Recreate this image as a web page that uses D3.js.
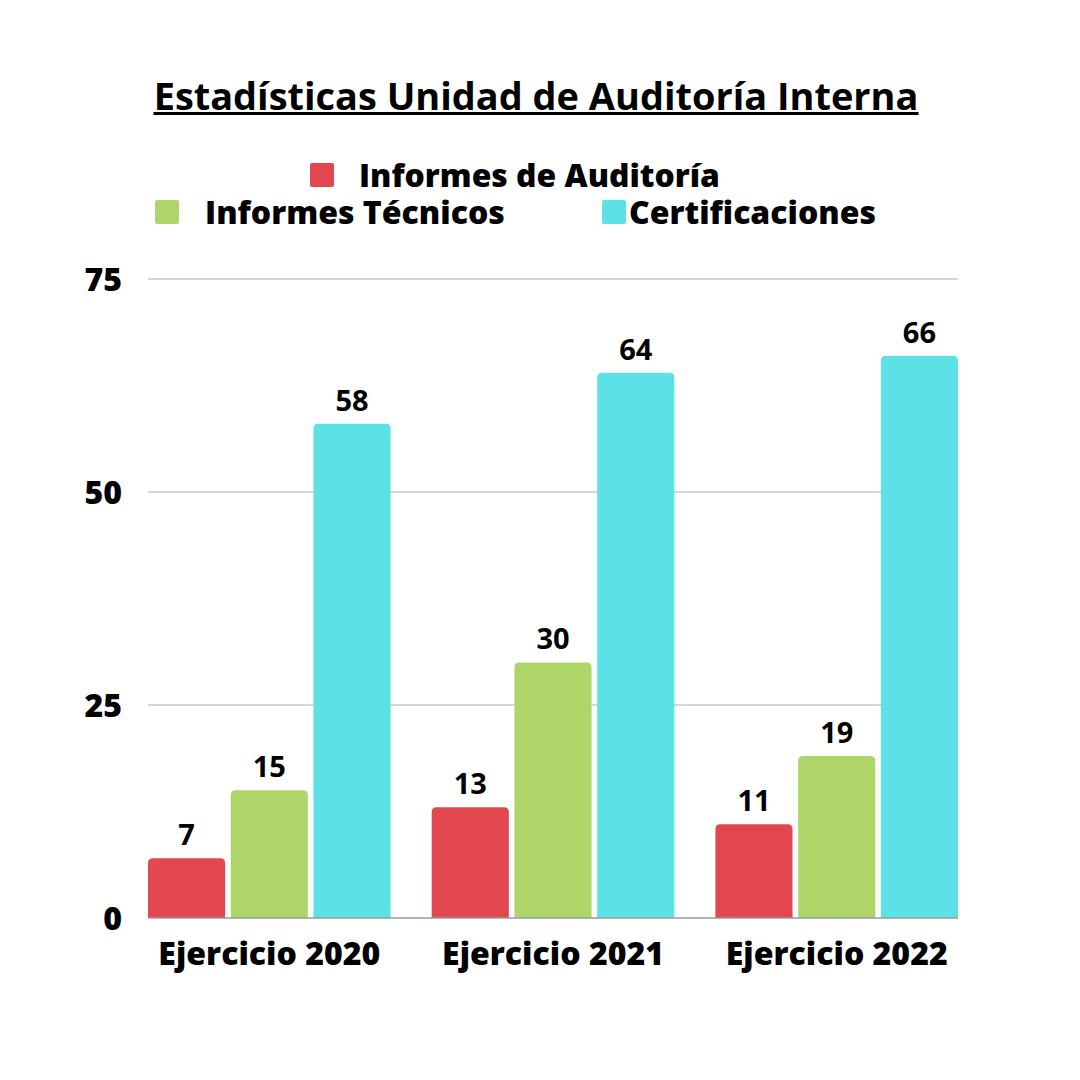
<!DOCTYPE html>
<html><head><meta charset="utf-8">
<script src="https://cdn.jsdelivr.net/npm/d3@7"></script>
<style>body{margin:0;background:#fff}svg{display:block}text{font-family:"Open Sans",sans-serif;fill:#000}</style>
</head><body><svg id="c" width="1080" height="1080"></svg>
<script>
const title = "Estadísticas Unidad de Auditoría Interna";
const categories = ["Ejercicio 2020", "Ejercicio 2021", "Ejercicio 2022"];
const seriesNames = ["Informes de Auditoría", "Informes Técnicos", "Certificaciones"];
const seriesColors = ["#E2464F", "#AED568", "#5CE1E6"];
const informesAuditoria = [7, 13, 11];
const informesTecnicos = [15, 30, 19];
const certificaciones = [58, 64, 66];
const yTicks = [0, 25, 50, 75];

const values = [informesAuditoria, informesTecnicos, certificaciones];
const svg = d3.select("#c");
const x0 = d3.scaleBand().domain(categories).range([148, 958]).paddingInner(0.145).paddingOuter(0);
const x1 = d3.scaleBand().domain(seriesNames).range([0, x0.bandwidth()]).paddingInner(0.068).paddingOuter(0);
const y = d3.scaleLinear().domain([0, 75]).range([918, 279]);

function fit(sel, base, target) {
  sel.style("font-size", base + "px");
  const w = sel.node().getComputedTextLength();
  sel.style("font-size", (base * target / w) + "px");
}

// title
const t = svg.append("text").attr("x", 536).attr("y", 110).attr("text-anchor", "middle")
  .style("font-weight", 700).text(title);
fit(t, 36, 765);
svg.append("rect").attr("x", 536 - 765/2).attr("y", 112).attr("width", 765).attr("height", 3).attr("fill", "#000");

// legend
const legendItems = [
  {i:0, sx:310, sy:163, tx:359, ty:187, w:361},
  {i:1, sx:155, sy:200, tx:205, ty:224, w:300},
  {i:2, sx:602, sy:200, tx:629, ty:224, w:247}
];
legendItems.forEach(d => {
  svg.append("rect").attr("x", d.sx).attr("y", d.sy).attr("width", 24).attr("height", 24).attr("rx", 2)
    .attr("fill", seriesColors[d.i]);
  const lt = svg.append("text").attr("x", d.tx).attr("y", d.ty).style("font-weight", 800)
    .text(seriesNames[d.i]);
  fit(lt, 30, d.w);
});

// grid
const grid = svg.append("g");
yTicks.filter(v => v > 0).forEach(v => {
  grid.append("line").attr("x1", 148).attr("x2", 958).attr("y1", y(v)).attr("y2", y(v))
    .attr("stroke", "#c8c8c8").attr("stroke-width", 1.5);
});
// y axis labels
const yAxis = d3.axisLeft(y).tickValues(yTicks).tickSize(0).tickPadding(0);
const ga = svg.append("g").attr("transform", "translate(122,0)").call(yAxis);
ga.select(".domain").remove();
ga.selectAll("text").style("font-size", "32px").style("font-weight", 800).style("font-family", "Open Sans")
  .attr("fill", "#000").attr("dy", "0.36em");

// bars
function topRounded(x, yTop, w, h, r) {
  r = Math.min(r, h);
  return `M${x},${yTop+h}V${yTop+r}Q${x},${yTop} ${x+r},${yTop}H${x+w-r}Q${x+w},${yTop} ${x+w},${yTop+r}V${yTop+h}Z`;
}
categories.forEach((c, ci) => {
  seriesNames.forEach((s, si) => {
    const v = values[si][ci];
    const bx = x0(c) + x1(s);
    const bw = x1.bandwidth();
    svg.append("path").attr("d", topRounded(bx, y(v), bw, y(0) - y(v), 5)).attr("fill", seriesColors[si]);
    svg.append("text").attr("x", bx + bw/2).attr("y", y(v) - 13).attr("text-anchor", "middle")
      .style("font-size", "29px").style("font-weight", 700).text(v);
  });
});
// baseline
svg.append("line").attr("x1", 148).attr("x2", 958).attr("y1", y(0)).attr("y2", y(0))
  .attr("stroke", "#9a9a9a").attr("stroke-width", 1.5);

// x axis labels
const xAxis = d3.axisBottom(x0).tickSize(0).tickPadding(0);
const gx = svg.append("g").attr("transform", "translate(0,965)").call(xAxis);
gx.select(".domain").remove();
gx.selectAll("text").style("font-weight", 800).style("font-family", "Open Sans")
  .attr("fill", "#000").attr("dy", 0).each(function() { fit(d3.select(this), 30, 222); });
</script></body></html>
